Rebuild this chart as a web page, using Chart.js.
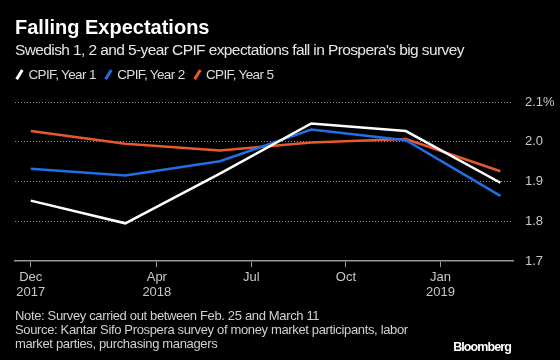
<!DOCTYPE html>
<html><head><meta charset="utf-8">
<script src="https://cdn.jsdelivr.net/npm/chart.js@4"></script>
<style>
html,body{margin:0;padding:0;background:#000;}
#wrap{position:relative;width:560px;height:360px;background:#000;overflow:hidden;font-family:"Liberation Sans",Arial,sans-serif;color:#fff;}
#title{position:absolute;left:15px;top:16px;font-size:20px;line-height:22px;font-weight:bold;}
#sub{position:absolute;left:15px;top:41px;font-size:15.5px;line-height:18px;letter-spacing:-0.6px;color:#e6e6e6;white-space:nowrap;}
#legend{position:absolute;left:15px;top:67px;font-size:13.5px;line-height:16px;letter-spacing:-0.65px;color:#ddd;white-space:nowrap;}
#legend .it{display:inline-block;margin-right:8px;}
#legend .ic{display:inline-block;width:2.5px;height:11px;transform:rotate(31deg);margin:0 8px 0 3px;vertical-align:-1px;}
#note{position:absolute;left:15px;top:309px;font-size:13px;line-height:14px;letter-spacing:-0.35px;color:#d0d0d0;white-space:nowrap;}
#bb{position:absolute;right:49px;top:340px;font-size:12.5px;line-height:14px;letter-spacing:-0.9px;font-weight:bold;color:#fff;}
canvas{position:absolute;left:0;top:0;}
</style></head>
<body>
<div id="wrap">
<canvas id="c" width="560" height="360"></canvas>
<div id="title">Falling Expectations</div>
<div id="sub">Swedish 1, 2 and 5-year CPIF expectations fall in Prospera's big survey</div>
<div id="legend"></div>
<div id="note">Note: Survey carried out between Feb. 25 and March 11<br>Source: Kantar Sifo Prospera survey of money market participants, labor<br>market parties, purchasing managers</div>
<div id="bb">Bloomberg</div>
</div>
<script>
// months since Dec 2017 for each survey
const months = [0, 3, 6, 8.9, 11.9, 14.9];
const seriesNames = ["CPIF, Year 1", "CPIF, Year 2", "CPIF, Year 5"];
const year1 = [1.852, 1.795, 1.920, 2.046, 2.027, 1.897];
const year2 = [1.932, 1.915, 1.951, 2.031, 2.004, 1.864];
const year5 = [2.027, 1.995, 1.978, 1.998, 2.007, 1.926];
const xTickPos = [0, 4, 7, 10, 13];
const xTickLabels = [["Dec", "2017"], ["Apr", "2018"], ["Jul"], ["Oct"], ["Jan", "2019"]];
const yTicks = [1.7, 1.8, 1.9, 2.0, 2.1];
const colors = ["#ffffff", "#1f6fe6", "#e8592e"];

const values = [year1, year2, year5];
const datasets = values.map((v, i) => ({
  label: seriesNames[i],
  data: v.map((y, j) => ({x: months[j], y: y})),
  borderColor: colors[i],
  backgroundColor: colors[i],
  borderWidth: 2.5,
  pointRadius: 0,
  tension: 0,
  fill: false
}));

const leg = document.getElementById('legend');
seriesNames.forEach((n, i) => {
  const s = document.createElement('span');
  s.className = 'it';
  s.innerHTML = '<span class="ic" style="background:' + colors[i] + '"></span>' + n;
  leg.appendChild(s);
});

const tickFont = {family: "'Liberation Sans',Arial,sans-serif", size: 13, lineHeight: 1.15};

new Chart(document.getElementById('c'), {
  type: 'line',
  data: {datasets},
  options: {
    responsive: false,
    animation: false,
    layout: {padding: {top: 102, left: 15, right: 0, bottom: 57}},
    plugins: {legend: {display: false}, tooltip: {enabled: false}},
    scales: {
      x: {
        type: 'linear',
        min: -0.5,
        max: 15.3,
        afterBuildTicks: (s) => { s.ticks = xTickPos.map(v => ({value: v})); },
        ticks: {
          color: '#c8c8c8',
          font: tickFont,
          padding: 3,
          maxRotation: 0,
          autoSkip: false,
          callback: (v) => { const i = xTickPos.indexOf(v); return i >= 0 ? xTickLabels[i] : ''; }
        },
        grid: {drawOnChartArea: false, drawTicks: true, tickLength: 6, color: '#9a9a9a', lineWidth: 1},
        border: {display: true, color: '#9a9a9a', width: 1.5}
      },
      y: {
        position: 'right',
        min: 1.7,
        max: 2.1,
        afterBuildTicks: (s) => { s.ticks = yTicks.map(v => ({value: v})); },
        afterFit: (s) => { s.width = 47; },
        ticks: {
          color: '#c8c8c8',
          font: tickFont,
          padding: 12,
          callback: (v) => v === 2.1 ? v.toFixed(1) + '%' : v.toFixed(1)
        },
        grid: {
          drawTicks: false,
          color: (ctx) => ctx.tick && ctx.tick.value === 1.7 ? 'rgba(0,0,0,0)' : '#8a8a8a',
          lineWidth: 1
        },
        border: {display: false, dash: [1, 2]}
      }
    }
  }
});
</script>
</body></html>
